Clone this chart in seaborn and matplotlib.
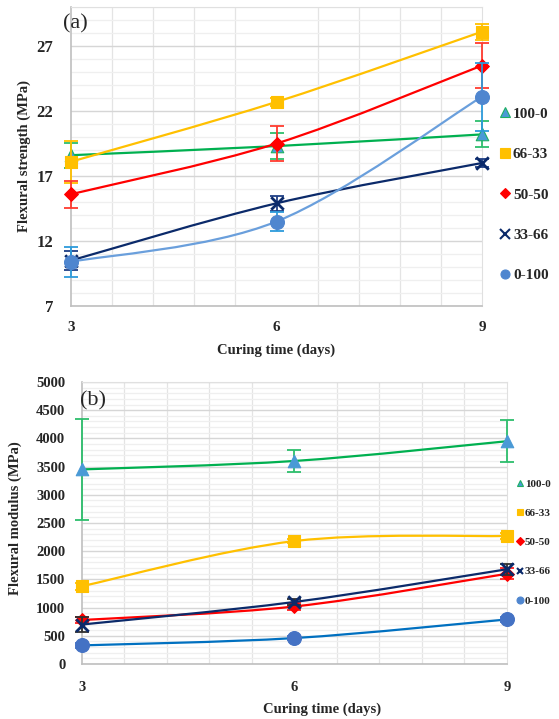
import numpy as np
import matplotlib
matplotlib.use("Agg")
import matplotlib.pyplot as plt
import seaborn as sns
from matplotlib.path import Path
from matplotlib.patches import PathPatch
from matplotlib.lines import Line2D
from matplotlib.ticker import MultipleLocator, FixedLocator

# ---- data ----
days = [3, 6, 9]
series = ["100-0", "66-33", "50-50", "33-66", "0-100"]

strength_100_0 = [18.6, 19.3, 20.2]
strength_66_33 = [18.1, 22.7, 28.1]
strength_50_50 = [15.6, 19.5, 25.5]
strength_33_66 = [10.5, 14.9, 18.0]
strength_0_100 = [10.4, 13.5, 23.1]
strength_err_100_0 = [0.95, 1.0, 1.0]
strength_err_66_33 = [1.6, 0.3, 0.6]
strength_err_50_50 = [1.05, 1.35, 1.75]
strength_err_33_66 = [0.7, 0.6, 0.3]
strength_err_0_100 = [1.15, 0.7, 2.6]

modulus_100_0 = [3450, 3600, 3950]
modulus_66_33 = [1380, 2180, 2270]
modulus_50_50 = [780, 1020, 1600]
modulus_33_66 = [700, 1100, 1680]
modulus_0_100 = [330, 460, 790]
modulus_err_100_0 = [900, 200, 370]
modulus_err_66_33 = [60, 40, 50]
modulus_err_50_50 = [60, 60, 100]
modulus_err_33_66 = [140, 60, 100]
modulus_err_0_100 = [40, 30, 40]

sns.set_style("white")
plt.rcParams["font.family"] = ["Liberation Serif", "DejaVu Serif"]
plt.rcParams["font.weight"] = "bold"

markers = ["^", "s", "D", "x", "o"]
msizes = [9, 9, 7, 9, 10]


def smooth_path(x, y):
    # Excel-style smoothed line (Bezier through the points)
    pts = np.column_stack([x, y]).astype(float)
    n = len(pts)
    verts = [pts[0]]
    codes = [Path.MOVETO]
    for i in range(n - 1):
        p0 = pts[max(i - 1, 0)]
        p1 = pts[i]
        p2 = pts[i + 1]
        p3 = pts[min(i + 2, n - 1)]
        verts += [p1 + (p2 - p0) / 6, p2 - (p3 - p1) / 6, p2]
        codes += [Path.CURVE4] * 3
    return Path(verts, codes)


def draw_panel(ax, values, errors, line_cols, face_cols, edge_cols, err_cols):
    for i, name in enumerate(series):
        ax.add_patch(PathPatch(smooth_path(days, values[i]), fill=False,
                               edgecolor=line_cols[i], lw=1.6, zorder=3 + i))
        eb = ax.errorbar(days, values[i], yerr=errors[i], fmt="none",
                         ecolor=err_cols[i], elinewidth=1.3, capsize=5,
                         capthick=1.3, zorder=3 + i)
        for art in list(eb.lines[1]) + list(eb.lines[2]):
            art.set_clip_on(False)
        if markers[i] == "x":
            sns.scatterplot(x=days, y=values[i], marker="x",
                            color=face_cols[i], s=msizes[i] ** 2,
                            linewidth=2, ax=ax, zorder=4 + i)
        else:
            sns.scatterplot(x=days, y=values[i], marker=markers[i],
                            color=face_cols[i], edgecolor=edge_cols[i],
                            linewidth=0.8, s=msizes[i] ** 2, ax=ax,
                            zorder=4 + i)
    for c in ax.collections:
        c.set_clip_on(False)


def style_axes(ax, minor_y):
    ax.set_xlim(3, 9)
    ax.xaxis.set_major_locator(FixedLocator(days))
    ax.xaxis.set_minor_locator(MultipleLocator(0.6))
    ax.yaxis.set_minor_locator(MultipleLocator(minor_y))
    ax.grid(which="minor", axis="x", color="#E4E4E4", lw=0.9)
    ax.grid(which="minor", axis="y", color="#EFEFEF", lw=0.9)
    ax.grid(which="major", axis="y", color="#D6D6D6", lw=1.0)
    ax.set_axisbelow(True)
    ax.tick_params(which="both", length=0)
    for s in ["top", "right"]:
        ax.spines[s].set_color("#E0E0E0")
    for s in ["left", "bottom"]:
        ax.spines[s].set_color("#BFBFBF")
        ax.spines[s].set_linewidth(1.2)


fig = plt.figure(figsize=(5.59, 7.19), dpi=100)

# ---- (a) flexural strength ----
ax1 = fig.add_axes([71 / 559, 1 - 306 / 719, 411 / 559, 299 / 719])
draw_panel(
    ax1,
    [strength_100_0, strength_66_33, strength_50_50, strength_33_66, strength_0_100],
    [strength_err_100_0, strength_err_66_33, strength_err_50_50,
     strength_err_33_66, strength_err_0_100],
    ["#00B050", "#FFC000", "#FF0000", "#0B2A6A", "#6A9FDC"],
    ["#4A9AD6", "#FFC000", "#FF0000", "#0B2A6A", "#4F86CF"],
    ["#1DB065", "#FFC000", "#FF0000", "#0B2A6A", "#4F86CF"],
    ["#2DBE6C", "#FFC000", "#FF3B2F", "#1F3F86", "#2D9BDB"],
)
ax1.set_ylim(7, 30)
ax1.set_yticks([7, 12, 17, 22, 27])
style_axes(ax1, 1)
ax1.tick_params(axis="y", labelsize=12, pad=13)
ax1.tick_params(axis="x", labelsize=11, pad=11)
ax1.set_xlabel("Curing time (days)", fontsize=10.5, fontweight="bold")
ax1.xaxis.set_label_coords(0.5, -0.125)
ax1.set_ylabel("Flexural strength (MPa)", fontsize=10.5, fontweight="bold")
ax1.yaxis.set_label_coords(-0.097, 0.5)
fig.text(63 / 559, 1 - 24 / 719, "(a)", fontsize=16, fontweight="normal",
         va="center", ha="left")

# ---- (b) flexural modulus ----
ax2 = fig.add_axes([82 / 559, 1 - 664 / 719, 425 / 559, 282 / 719])
draw_panel(
    ax2,
    [modulus_100_0, modulus_66_33, modulus_50_50, modulus_33_66, modulus_0_100],
    [modulus_err_100_0, modulus_err_66_33, modulus_err_50_50,
     modulus_err_33_66, modulus_err_0_100],
    ["#00B050", "#FFC000", "#FF0000", "#0B2A6A", "#0070C0"],
    ["#4A9AD6", "#FFC000", "#FF0000", "#0B2A6A", "#4472C4"],
    ["#4A9AD6", "#FFC000", "#FF0000", "#0B2A6A", "#4472C4"],
    ["#2DBE6C", "#FFC000", "#FF2020", "#303030", "#4472C4"],
)
ax2.set_ylim(0, 5000)
ax2.set_yticks(np.arange(0, 5001, 500))
style_axes(ax2, 100)
ax2.tick_params(axis="y", labelsize=10.5, pad=12)
ax2.tick_params(axis="x", labelsize=10.5, pad=12)
ax2.set_xlabel("Curing time (days)", fontsize=10.5, fontweight="bold")
ax2.xaxis.set_label_coords(0.565, -0.138)
ax2.set_ylabel("Flexural modulus (MPa)", fontsize=10.5, fontweight="bold")
ax2.yaxis.set_label_coords(-0.141, 0.518)
fig.text(80 / 559, 1 - 401 / 719, "(b)", fontsize=16, fontweight="normal",
         va="center", ha="left")

# ---- legends ----
leg_face = ["#4A9AD6", "#FFC000", "#FF0000", "#0B2A6A", "#4F86CF"]
leg_edge = ["#1DB065", "#FFC000", "#FF0000", "#0B2A6A", "#4F86CF"]


def handles(size):
    hs = []
    for i, name in enumerate(series):
        ms = size * 0.8 if markers[i] == "D" else size
        hs.append(Line2D([], [], ls="none", marker=markers[i], ms=ms,
                         markerfacecolor=leg_face[i], markeredgecolor=leg_edge[i],
                         mew=1.5 if markers[i] == "x" else 0.8, label=name))
    return hs


fig.legend(handles=handles(6.5), loc="upper left",
           bbox_to_anchor=(500 / 559, 1 - 107 / 719), frameon=False,
           prop={"size": 11, "weight": "bold"}, handlelength=0.7,
           handletextpad=0.15, labelspacing=1.75, borderpad=0,
           borderaxespad=0)
fig.legend(handles=handles(5), loc="upper left",
           bbox_to_anchor=(516 / 559, 1 - 479 / 719), frameon=False,
           prop={"size": 8, "weight": "bold"}, handlelength=0.7,
           handletextpad=0.1, labelspacing=1.75, borderpad=0,
           borderaxespad=0)

plt.savefig("out.png", dpi=100)
